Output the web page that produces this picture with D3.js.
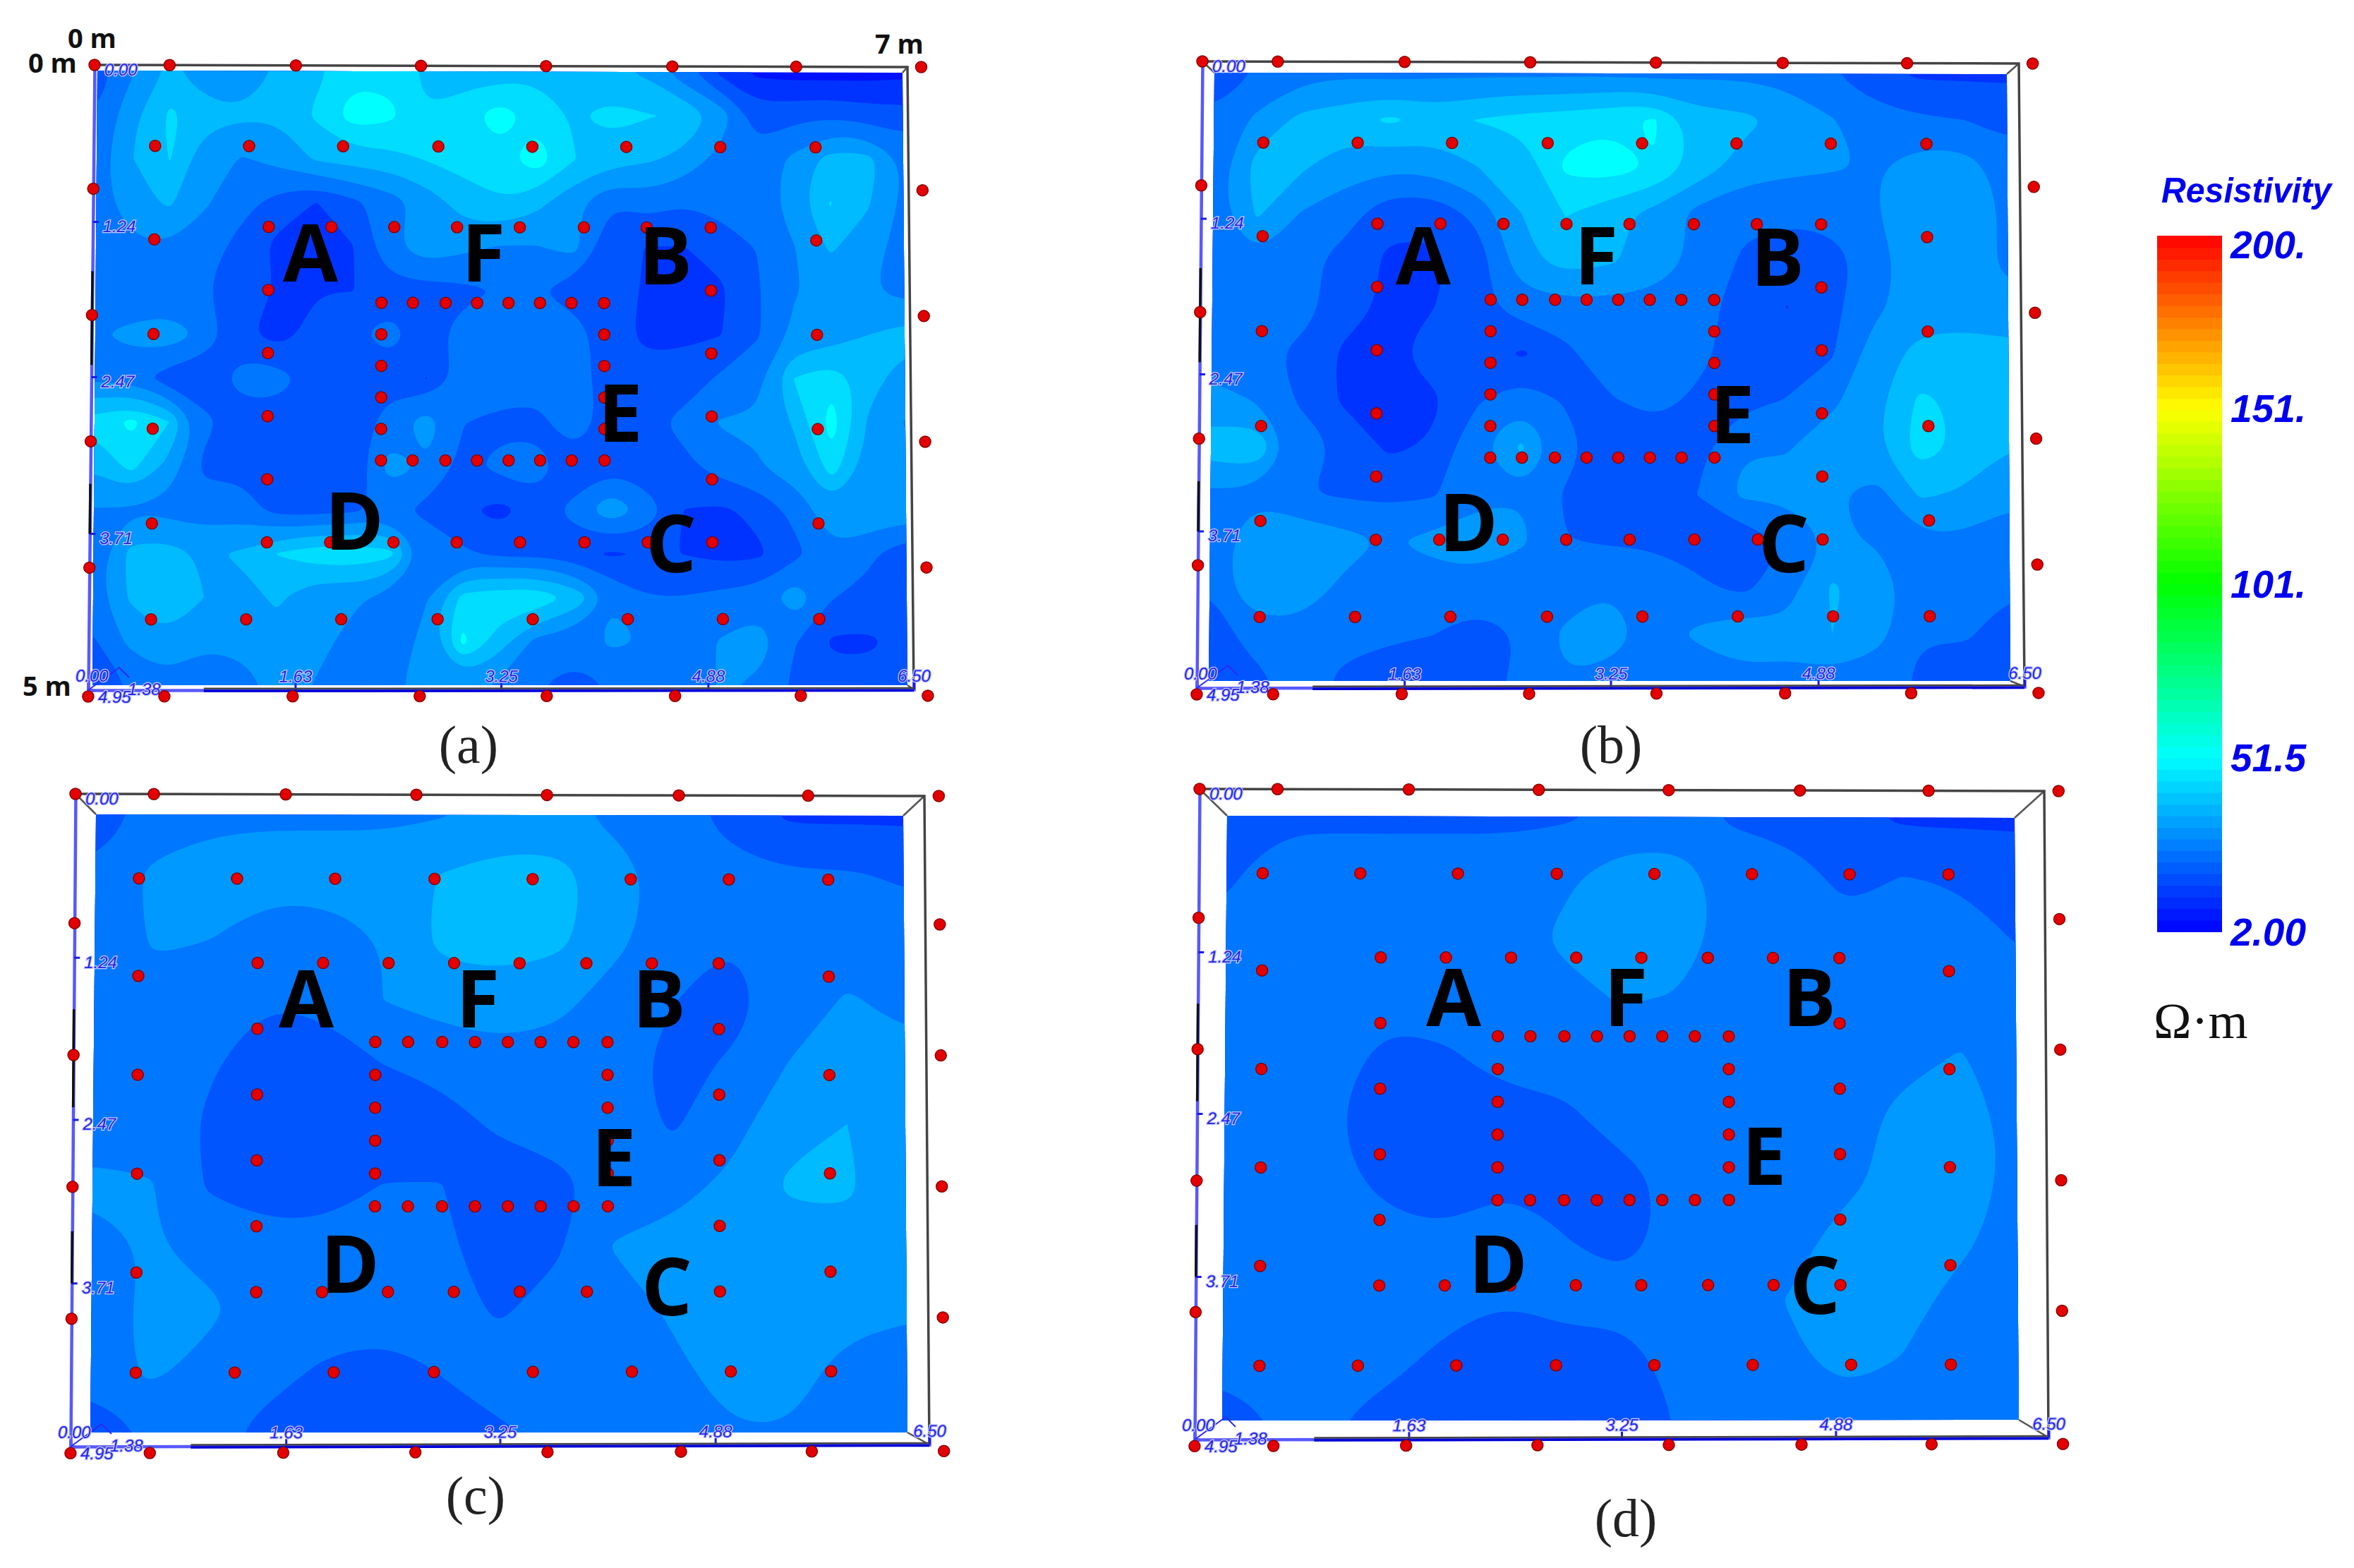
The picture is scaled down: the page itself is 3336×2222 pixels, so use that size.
<!DOCTYPE html>
<html>
<head>
<meta charset="utf-8">
<script src="https://cdnjs.cloudflare.com/ajax/libs/d3/7.8.5/d3.min.js"></script>
<style>
html,body{margin:0;padding:0;background:#fff;}
svg{display:block;}
.axis text{font-family:"Liberation Sans",sans-serif;font-style:italic;font-size:24px;fill:#2424ee;stroke:#c8ccff;stroke-width:2.5px;paint-order:stroke;}
.axis line{stroke:#1a1aee;stroke-width:3;}
.axis path{stroke:#5858ff;stroke-width:4.5;}
.letter{font-family:"Open Sans",sans-serif;font-weight:700;font-size:113px;text-anchor:middle;fill:#000;}
.caption{font-family:"Liberation Serif",serif;font-size:76px;text-anchor:middle;fill:#222;}
.corner{font-family:"Open Sans",sans-serif;font-weight:700;font-size:38px;fill:#111;}
.legend{font-family:"Liberation Sans",sans-serif;font-weight:700;font-style:italic;fill:#0000f0;}
</style>
</head>
<body>
<svg id="chart" width="3336" height="2222"></svg>
<script>
// ===============================
// DATA - resistivity in ohm metres
// ===============================

const gridA=[
[18,28,36,30,30,36,40,46,46,40,38,38,40,38,36,34,24,14,7,6,6,6,7],
[22,34,43,38,36,36,43,52,50,42,46,52,46,41,44,42,41,33,19,20,21,19,18],
[25,35,42,30,28,31,36,38,39,42,44,46,53,42,38,36,33,26,24,30,38,38,28],
[25,33,36,29,24,19,15,20,25,31,38,41,37,30,22,25,22,24,24,32,42,36,27],
[25,27,28,25,19,13,11,15,27,33,30,28,28,31,17,15,15,18,22,28,36,31,26],
[24,24,22,22,17,15,15,15,19,19,20,22,22,18,16,15,14,14,21,28,30,29,26],
[28,30,33,27,16,12,18,21,24,19,25,26,27,26,17,14,14,15,21,30,31,35,38],
[27,25,18,16,26,25,18,21,19,15,24,26,26,26,17,17,18,23,27,42,46,38,31],
[44,50,42,24,17,18,17,17,25,32,22,20,19,28,18,20,24,29,29,36,52,34,28],
[36,44,33,20,20,18,16,17,31,28,20,24,26,17,20,17,20,25,28,32,45,32,30],
[28,28,26,25,25,19,19,20,24,20,16,13,18,24,34,26,15,14,17,24,33,34,33],
[24,37,38,34,36,42,46,46,44,27,23,20,20,18,14,16,15,13,14,20,27,23,17],
[25,36,40,35,33,36,29,30,26,28,44,46,47,40,28,22,22,24,25,33,22,20,18],
[21,30,34,29,32,33,31,26,25,30,50,38,26,24,30,28,26,29,32,22,14,14,18],
[17,22,26,26,23,32,28,25,26,32,31,27,22,20,22,24,25,29,27,20,18,18,20]
];

const gridB=[
[18,22,26,27,26,27,27,27,27,27,26,27,27,26,22,17,14,14,14],
[23,30,37,39,43,39,42,44,45,47,49,38,37,33,29,25,23,22,20],
[24,38,36,31,30,31,35,37,50,52,48,39,32,30,29,28,32,32,25],
[25,36,28,25,17,17,24,35,42,37,33,26,23,23,24,28,33,34,27],
[25,28,24,19,14,14,18,33,38,36,32,27,21,18,19,25,33,34,26],
[25,25,25,18,14,15,20,25,26,26,26,24,19,15,20,27,32,33,31],
[25,24,20,14,14,18,20,14,20,27,27,24,18,20,21,32,37,37,37],
[31,28,21,14,14,14,21,27,21,21,25,20,20,22,27,33,43,40,37],
[38,41,25,21,14,16,28,36,25,17,16,20,28,28,32,34,45,40,35],
[27,27,22,21,20,21,26,28,21,16,18,22,30,30,29,26,36,34,30],
[24,33,34,31,28,30,33,30,22,21,21,19,18,22,29,28,27,27,25],
[22,35,33,27,26,26,25,22,24,28,25,23,20,26,36,32,25,25,22],
[19,24,26,23,23,22,19,22,30,33,25,30,33,30,35,31,22,22,21],
[16,20,24,21,18,17,18,24,28,25,22,23,26,27,26,24,21,21,20]
];

const gridC=[
[18,24,27,27.5,27.5,27.5,28,30,30,27,24,20,14,14,14],
[23,30,31,31,31,31,35.5,38,38,31,26,23.5,23,23,21],
[24,29,28.5,25,25.5,28.5,37,38,37,30,25,22,25,25.5,25],
[24,27,25,22,23,28.5,31,32,30,26,22,19,25,29,27],
[25,25,22.5,19,19.5,22,24,26,26,24,20,22.5,28.5,31,30],
[25,25,21,18,18,18,19,23,25,24.5,21,26,33,35,31],
[30,29,21,18,18,22,22,18,19.5,25,26,30,36,36,31],
[25,29,26,25,25,25,23,19,21,29,31,32,32,33,31],
[25,30,30,25,25,25,24,21,24,25,29.5,32,32,31,29],
[23,30,26,24,21,19,22,24.5,24,25,27,31,31,26,26],
[20,22,24,20,18,18,20,21,23,25,26,28,28,25,25]
];

const gridD=[
[20.5,20.5,20.5,20.5,20.5,20.5,21,23,24,21,19,17,14,14,14],
[21,25,25,25,25,25,27,32,32,25,25,20,22,21,19],
[23,25,25,25,25,25,30,34,33,25,25,24,26,25,21.5],
[24,25,25,25,25,25,26,29,28,25,25,25,25,25,24],
[24,25,24,19,21,25,25,25,25,25,25,25,26,29,25],
[25,25,22,18,18,18,20,25,25,25,25,25,31,32,26],
[25,25,24,18,18,21,20,19,24,25,25,26,32,33,26],
[25,25,25,25,23,25,22,18,25,25,25,32,33,30,25],
[25,25,25,25,25,22,25,25,25,25,29,33,31,26,25],
[23,25,25,24,19,18,18,18,25,25,27,31,28,25,25],
[20,22,22,18,18,18,18,18,22,25,25,25,25,25,25]
];

// electrode positions in metres
const edgeX=[0.60,1.61,2.61,3.61,4.62,5.61,6.61];
const edgeY=[0,0.98,1.98,2.98,3.98,5.00];
const gridX=[0.49,1.24,1.99,2.75,3.50,4.25,5.00,5.76];
const gridY=[1.38,2.13,2.88,3.63];
const midX=[1.40,1.90,2.40,2.90,3.40,3.91,4.41,4.92];
const midY=[1.78,2.28,2.78,3.28];
const innerX=[2.30,2.55,2.81,3.06,3.31,3.56,3.81,4.07];
const innerY=[2.13,2.38,2.63,2.88];

// axis ticks
const widthTicks=[1.63,3.25,4.88,6.50];
const depthTicks=[0,1.24,2.47,3.71];
const areaLetters=["A","F","B","E","D","C"];

// legend
const legendValues=[2,51.5,101,151,200];
const legendLabels=["2.00","51.5","101.","151.","200."];
const legendColors=["#0000ff","#00ffff","#00ff00","#ffff00","#ff0000"];
const bandStep=6.6;

// ===============================
// LAYOUT
// ===============================

const panels=[
    {caption:"(a)",captionPos:[664,1058],grid:gridA,
     surface:[[134,92],[1286,95],[1295,977],[125,978]],
     plane:[[138,100],[1279,103],[1286,971],[131,971]],
     letters:[[440,358],[685,358],[943,362],[879,585],[502,738],[951,770]]},
    {caption:"(b)",captionPos:[2283,1058],grid:gridB,
     surface:[[1704,87],[2861,90],[2869,973],[1696,975]],
     plane:[[1721,103],[2844,105],[2849,965],[1713,965]],
     letters:[[2017,362],[2262,362],[2519,364],[2455,587],[2081,740],[2528,770]]},
    {caption:"(c)",captionPos:[674,2122],grid:gridC,
     surface:[[107,1125],[1310,1128],[1317,2047],[100,2050]],
     plane:[[136,1154],[1280,1156],[1286,2030],[128,2030]],
     letters:[[434,1415],[677,1415],[934,1415],[870,1640],[496,1791],[945,1823]]},
    {caption:"(d)",captionPos:[2304,2154],grid:gridD,
     surface:[[1700,1118],[2897,1121],[2903,2037],[1693,2040]],
     plane:[[1739,1156],[2855,1159],[2861,2012],[1732,2013]],
     letters:[[2060,1413],[2304,1413],[2564,1413],[2500,1638],[2123,1791],[2572,1821]]}
];

const svg=d3.select("#chart");

const colorScale=d3.scaleLinear().domain(legendValues).range(legendColors);

const bandEdges=d3.range(0,30).map(k=>legendValues[0]+k*bandStep);

// bilinear map of unit coordinates onto a four corner quad
function quadPoint(q,u,v){

    const top=[q[0][0]+(q[1][0]-q[0][0])*u,q[0][1]+(q[1][1]-q[0][1])*u];

    const bot=[q[3][0]+(q[2][0]-q[3][0])*u,q[3][1]+(q[2][1]-q[3][1])*u];

    return [top[0]+(bot[0]-top[0])*v,top[1]+(bot[1]-top[1])*v];

}

// ===============================
// COLOUR FIELD
// ===============================

function drawField(g,p,i){

    const rows=p.grid;

    const n=rows[0].length;

    const m=rows.length;

    // repeat the border once so the bands run on past the clip
    const padded=[rows[0],...rows,rows[m-1]].map(r=>[r[0],...r,r[n-1]]);

    const contours=d3.contours()
        .size([n+2,m+2])
        .thresholds(bandEdges)(padded.flat());

    const u=d3.scaleLinear().domain([1.5,n+0.5]).range([0,1]);

    const v=d3.scaleLinear().domain([1.5,m+0.5]).range([0,1]);

    const ringPath=d3.line().curve(d3.curveBasisClosed);

    const clipId="plane"+i;

    svg.append("clipPath")
        .attr("id",clipId)
        .append("polygon")
        .attr("points",p.plane.map(c=>c.join(",")).join(" "));

    g.append("g")
        .attr("clip-path",`url(#${clipId})`)
        .selectAll("path")
        .data(contours.filter(c=>c.coordinates.length))
        .enter()
        .append("path")
        .attr("fill-rule","evenodd")
        .attr("fill",d=>colorScale(d.value+bandStep/2))
        .attr("d",d=>d.coordinates.flatMap(poly=>poly.map(ring=>
            ringPath(ring.slice(0,-1).map(c=>quadPoint(p.plane,u(c[0]),v(c[1]))))
        )).join(""));

}

// ===============================
// BOX FRAME AND AXES
// ===============================

function drawFrame(g,p){

    const [tl,tr,br,bl]=p.surface;

    // edges of the box, running down to the colour plane
    g.selectAll(".depth")
        .data(d3.range(3))
        .enter()
        .append("line")
        .attr("x1",d=>[tl,tr,br][d][0])
        .attr("y1",d=>[tl,tr,br][d][1])
        .attr("x2",d=>p.plane[d][0])
        .attr("y2",d=>p.plane[d][1])
        .attr("stroke","#555")
        .attr("stroke-width",2.5);

    g.append("path")
        .attr("d",d3.line()([tl,tr,br]))
        .attr("fill","none")
        .attr("stroke","#444")
        .attr("stroke-width",3.5);

    const depthScale=d3.scaleLinear().domain([0,4.95]).range([tl[1],bl[1]]);

    const widthScale=d3.scaleLinear().domain([0,6.5]).range([bl[0],br[0]]);

    const kx=(bl[0]-tl[0])/(bl[1]-tl[1]);

    const ky=(br[1]-bl[1])/(br[0]-bl[0]);

    g.append("g")
        .attr("class","axis")
        .attr("transform",`matrix(1,0,${kx},1,${tl[0]-kx*tl[1]},0)`)
        .call(d3.axisRight(depthScale)
            .tickValues(depthTicks)
            .tickFormat(d3.format(".2f"))
            .tickSize(8)
            .tickPadding(6))
        .selectAll("text")
        .attr("dy","0.6em");

    // dark runs where the box edge shows through the blue axis
    g.selectAll(".leftRun")
        .data([[0.33,0.48],[0.67,0.75]])
        .enter()
        .append("line")
        .attr("x1",d=>tl[0]+(bl[0]-tl[0])*d[0])
        .attr("x2",d=>tl[0]+(bl[0]-tl[0])*d[1])
        .attr("y1",d=>depthScale(d[0]*4.95))
        .attr("y2",d=>depthScale(d[1]*4.95))
        .attr("stroke","#111")
        .attr("stroke-width",3.5);

    g.append("g")
        .attr("class","axis")
        .attr("transform",`matrix(1,${ky},0,1,0,${bl[1]-ky*bl[0]})`)
        .call(d3.axisTop(widthScale)
            .tickValues(widthTicks)
            .tickFormat(d3.format(".2f"))
            .tickSize(10)
            .tickPadding(1));

    // bottom edge: dark box line sitting on a deep blue axis
    const startAt=bl[0]+(br[0]-bl[0])*0.14;

    const edgeAt=x=>bl[1]+ky*(x-bl[0]);

    g.append("line")
        .attr("x1",startAt).attr("x2",br[0])
        .attr("y1",edgeAt(startAt)+1.5).attr("y2",edgeAt(br[0])+1.5)
        .attr("stroke","#0000d8").attr("stroke-width",3.5);

    g.append("line")
        .attr("x1",startAt).attr("x2",br[0])
        .attr("y1",edgeAt(startAt)-2).attr("y2",edgeAt(br[0])-2)
        .attr("stroke","#444").attr("stroke-width",2.5);

    // the third axis is foreshortened to a stub in the corner
    g.append("path")
        .attr("d",d3.line()([[bl[0],bl[1]],[bl[0]+44,bl[1]-32],[bl[0]+58,bl[1]-18]]))
        .attr("fill","none")
        .attr("stroke","#2a2aff")
        .attr("stroke-width",2);

    const stubs=g.append("g").attr("class","axis");

    stubs.append("text").attr("x",bl[0]-18).attr("y",bl[1]-12).text("0.00");

    stubs.append("text").attr("x",bl[0]+14).attr("y",bl[1]+18).text("4.95");

    stubs.append("text").attr("x",bl[0]+56).attr("y",bl[1]+7).text("1.38");

}

// ===============================
// ELECTRODES
// ===============================

function electrodes(){

    const pts=[];

    [edgeY[0],edgeY[5]].forEach(y=>{
        [0,...edgeX].forEach(x=>pts.push([x,y]));
    });

    edgeY.slice(1,5).forEach(y=>{
        pts.push([0,y]);
        pts.push([edgeX[6],y]);
    });

    [0.64,4.39].forEach(y=>gridX.forEach(x=>pts.push([x,y])));

    [gridX[0],gridX[7]].forEach(x=>gridY.forEach(y=>pts.push([x,y])));

    [1.28,3.78].forEach(y=>midX.forEach(x=>pts.push([x,y])));

    [midX[0],midX[7]].forEach(x=>midY.forEach(y=>pts.push([x,y])));

    [1.88,3.13].forEach(y=>innerX.forEach(x=>pts.push([x,y])));

    [innerX[0],innerX[7]].forEach(x=>innerY.forEach(y=>pts.push([x,y])));

    return pts;

}

function drawElectrodes(g,p){

    const u=d3.scaleLinear().domain([0,6.5]).range([0,1]);

    const v=d3.scaleLinear().domain([0,4.95]).range([0,1]);

    g.selectAll(".electrode")
        .data(electrodes())
        .enter()
        .append("circle")
        .attr("class","electrode")
        .attr("r",8)
        .attr("fill","#e40000")
        .attr("stroke","#8a0000")
        .attr("stroke-width",1.5)
        .attr("cx",d=>quadPoint(p.surface,u(d[0]),v(d[1]))[0])
        .attr("cy",d=>quadPoint(p.surface,u(d[0]),v(d[1]))[1]);

}

panels.forEach((p,i)=>{

    const g=svg.append("g");

    drawField(g,p,i);

    drawFrame(g,p);

    drawElectrodes(g,p);

    g.selectAll(".letter")
        .data(areaLetters)
        .enter()
        .append("text")
        .attr("class","letter")
        .attr("x",(d,k)=>p.letters[k][0])
        .attr("y",(d,k)=>p.letters[k][1])
        .attr("dy","0.36em")
        .text(d=>d);

    g.append("text")
        .attr("class","caption")
        .attr("x",p.captionPos[0])
        .attr("y",p.captionPos[1])
        .attr("dy","0.3em")
        .text(p.caption);

});

// ===============================
// CORNER LABELS
// ===============================

const cornerText=["0 m","0 m","7 m","5 m"];

const cornerPos=[[96,68],[40,103],[1240,76],[32,986]];

svg.selectAll(".corner")
    .data(cornerText)
    .enter()
    .append("text")
    .attr("class","corner")
    .attr("x",(d,i)=>cornerPos[i][0])
    .attr("y",(d,i)=>cornerPos[i][1])
    .text(d=>d);

// ===============================
// LEGEND
// ===============================

const legendY=d3.scaleLinear().domain([2,200]).range([1320,334]);

// the bar is banded finer than the maps
const legendStep=bandStep/2;

const legendBands=d3.range(0,60).map(k=>2+k*legendStep);

svg.append("g")
    .selectAll("rect")
    .data(legendBands)
    .enter()
    .append("rect")
    .attr("x",3057)
    .attr("width",92)
    .attr("y",d=>legendY(d+legendStep))
    .attr("height",d=>legendY(d)-legendY(d+legendStep)+1)
    .attr("fill",d=>colorScale(d+legendStep/2));

svg.append("text")
    .attr("class","legend")
    .attr("x",3063)
    .attr("y",287)
    .attr("font-size",50)
    .attr("textLength",241)
    .attr("lengthAdjust","spacingAndGlyphs")
    .text("Resistivity");

svg.append("g")
    .selectAll("text")
    .data(legendLabels)
    .enter()
    .append("text")
    .attr("class","legend")
    .attr("x",3268)
    .attr("text-anchor","end")
    .attr("font-size",55)
    .attr("y",(d,i)=>legendY(legendValues[i]))
    .attr("dy",(d,i)=>i===4?"0.58em":"0.36em")
    .text(d=>d);

svg.append("text")
    .attr("x",3052)
    .attr("y",1471)
    .attr("font-family","Liberation Serif")
    .attr("font-size",72)
    .attr("fill","#111")
    .text("Ω·m");

</script>
</body>
</html>
